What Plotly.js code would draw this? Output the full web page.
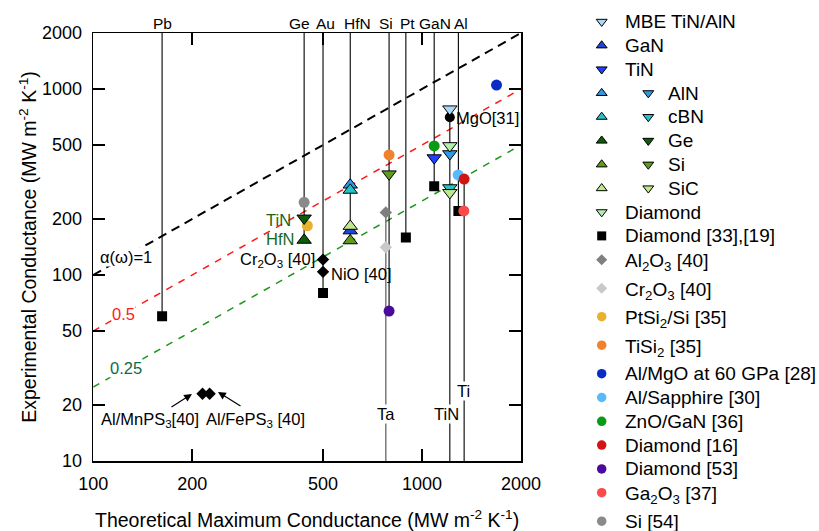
<!DOCTYPE html>
<html><head><meta charset="utf-8">
<script src="https://cdn.plot.ly/plotly-3.0.1.min.js"></script>
<style>html,body{margin:0;padding:0;background:#fff}#chart{width:819px;height:531px}</style>
</head><body><div id="chart"></div>
<script>
// ---------------- DATA (MW m^-2 K^-1) ----------------
// theoretical-maximum vertical guide lines
const lineNames = ['Pb','Ge','Au','HfN','Si','Pt','GaN','Al','Ta','TiN','Ti'];
const lineX     = [162, 438, 500, 605, 794, 893, 1089, 1290, 776, 1215, 1343];
const lineYFrom = [2000, 2000, 2000, 2000, 2000, 2000, 2000, 2000, 10, 10, 10];
const lineYTo   = [60, 154, 80, 153, 64, 159, 300, 221, 217, 780, 328];

// triangles (TiN / HfN interfaces)
const upTriNames = ['GaN','AlN','cBN','Ge','Si','SiC'];
const upTriX     = [605, 605, 605, 438, 605, 605];
const upTriY     = [173, 305, 286, 154, 153, 183];
const downTriNames = ['MBE TiN/AlN','TiN','AlN','cBN','Ge','Si','SiC','Diamond'];
const downTriX     = [1215, 1089, 1215, 1215, 438, 794, 1215, 1215];
const downTriY     = [780, 426, 448, 294, 202, 349, 277, 495];
const triLegendOrder = ['MBE TiN/AlN','GaN','TiN','AlN','cBN','Ge','Si','SiC','Diamond'];

// squares
const squareName = 'Diamond [33],[19]';
const squareX = [162, 500, 893, 1089, 1290];
const squareY = [60, 80, 159, 300, 221];

// grey diamonds
const diamondNames = ['Al<sub>2</sub>O<sub>3</sub> [40]','Cr<sub>2</sub>O<sub>3</sub> [40]'];
const diamondX = [776, 776];
const diamondY = [217, 141];

// black diamonds labelled in the plot
const blackDiamondLabels = ['Cr2O3 [40]','NiO [40]','Al/MnPS3 [40]','Al/FePS3 [40]'];
const blackDiamondX = [500, 500, 215, 226];
const blackDiamondY = [121, 104, 23, 23];

// circles
const circleNames = ['PtSi<sub>2</sub>/Si [35]','TiSi<sub>2</sub> [35]','Al/MgO at 60 GPa [28]','Al/Sapphire [30]',
  'ZnO/GaN [36]','Diamond [16]','Diamond [53]','Ga<sub>2</sub>O<sub>3</sub> [37]','Si [54]'];
const circleX = [448, 794, 1685, 1288, 1089, 1343, 794, 1340, 438];
const circleY = [184, 442, 1050, 345, 494, 328, 64, 221, 246];

// black circle labelled MgO[31]
const mgoX = [1215];
const mgoY = [705];

// accommodation-coefficient reference lines  G_exp = alpha * G_max
const alphaValues = [1, 0.5, 0.25];
const alphaXRange = [100, 2000];

const xTicks = [100, 200, 500, 1000, 2000];
const yTicks = [10, 20, 50, 100, 200, 500, 1000, 2000];

// ---------------- STYLE ----------------
const W = 819, H = 531;
const PX0 = 93.2, PX1 = 521, PY0 = 33, PY1 = 461;
const XLOG0 = 2, XLOG1 = Math.log10(2000);
const FONT = 'Arial, "Liberation Sans", Helvetica, sans-serif';
const px = x => x / W;
const py = y => 1 - y / H;
const xPix = v => PX0 + (Math.log10(v) - XLOG0) / (XLOG1 - XLOG0) * (PX1 - PX0);

const triColors = {'MBE TiN/AlN':'#a9d9f7','GaN':'#1f44de','TiN':'#2040ff','AlN':'#2e9ae6','cBN':'#25c3c9',
  'Ge':'#0c5c0c','Si':'#619b1d','SiC':'#bfe88a','Diamond':'#b3eeae'};
const diamondColors = ['#7f7f7f','#c9c9c9'];
const circleColors = ['#e8b22e','#f0822e','#0a2cc4','#59b9fa','#0a9a14','#d01515','#4b0a9e','#fa4a4a','#8a8a8a'];
const alphaStyles = [
  {color:'#000000', width:2, dash:'9px,6px'},
  {color:'#ff1a1a', width:1.5, dash:'7px,7px'},
  {color:'#1e961e', width:1.5, dash:'7px,7px'}];
const lineStyles = {Ta:{color:'#7a7a7a', width:1.5}, Au:{color:'#444444', width:1.5}};

const traces = [];
alphaValues.forEach((a, i) => {
  traces.push({x: alphaXRange, y: alphaXRange.map(v => a * v), mode:'lines', showlegend:false,
    hoverinfo:'skip', line: alphaStyles[i]});
});
lineNames.forEach((n, i) => {
  const st = lineStyles[n] || {color:'#000000', width:1.1};
  traces.push({x:[lineX[i], lineX[i]], y:[lineYFrom[i], lineYTo[i]], mode:'lines', showlegend:false,
    name:n, line:{color:st.color, width:st.width}});
});
traces.push({x:squareX, y:squareY, mode:'markers', name:squareName, showlegend:false,
  marker:{symbol:'square', size:10, color:'#000'}});
traces.push({x:blackDiamondX, y:blackDiamondY, mode:'markers', name:'labelled', text:blackDiamondLabels,
  showlegend:false, marker:{symbol:'diamond', size:9.5, color:'#000'}});
diamondNames.forEach((n, i) => traces.push({x:[diamondX[i]], y:[diamondY[i]], mode:'markers', name:n,
  showlegend:false, marker:{symbol:'diamond', size:9.5, color:diamondColors[i]}}));
circleNames.forEach((n, i) => traces.push({x:[circleX[i]], y:[circleY[i]], mode:'markers', name:n,
  showlegend:false, marker:{symbol:'circle', size:11, color:circleColors[i]}}));
traces.push({x:mgoX, y:mgoY, mode:'markers', name:'MgO[31]', showlegend:false,
  marker:{symbol:'circle', size:10, color:'#000'}});
upTriNames.forEach((n, i) => traces.push({x:[upTriX[i]], y:[upTriY[i]], mode:'markers', name:n + ' (up)',
  showlegend:false, marker:{symbol:'triangle-up', size:12.5, color:triColors[n], line:{color:'#000', width:1}}}));
downTriNames.forEach((n, i) => traces.push({x:[downTriX[i]], y:[downTriY[i]], mode:'markers', name:n + ' (down)',
  showlegend:false, marker:{symbol:'triangle-down', size:12.5, color:triColors[n], line:{color:'#000', width:1}}}));

// ---------------- custom legend (built from the series lists) ----------------
const legendEntries = [];
triLegendOrder.forEach(n => {
  const syms = [];
  if (upTriNames.includes(n)) syms.push('triangle-up');
  if (downTriNames.includes(n)) syms.push('triangle-down');
  legendEntries.push({text:n, syms:syms, color:triColors[n], size:9.5, line:1});
});
legendEntries.push({text:squareName, syms:['square'], color:'#000', size:9, line:0});
diamondNames.forEach((n, i) => legendEntries.push({text:n, syms:['diamond'], color:diamondColors[i], size:8.5, line:0}));
circleNames.forEach((n, i) => legendEntries.push({text:n, syms:['circle'], color:circleColors[i], size:9.5, line:0}));

const ann = [];
const LEG_Y0 = 21.7, LEG_STEP = 23.8, LEG_SUB_EXTRA = 4.7;
const SYM1_X = 601.7, SYM2_X = 648.3, TXT1_X = 624, TXT2_X = 667;
let yy = LEG_Y0;
const l1 = {x:[], y:[], symbol:[], color:[], size:[], lw:[]};
const l2 = {x:[], y:[], symbol:[], color:[], size:[], lw:[]};
legendEntries.forEach(e => {
  l1.x.push(SYM1_X); l1.y.push(yy); l1.symbol.push(e.syms[0]); l1.color.push(e.color); l1.size.push(e.size); l1.lw.push(e.line);
  if (e.syms.length > 1) {
    l2.x.push(SYM2_X); l2.y.push(yy); l2.symbol.push(e.syms[1]); l2.color.push(e.color); l2.size.push(e.size); l2.lw.push(e.line);
  }
  const hasSub = e.text.indexOf('<sub>') >= 0;
  ann.push({xref:'paper', yref:'paper', x:px(e.syms.length > 1 ? TXT2_X : TXT1_X), y:py(yy + (hasSub ? 2.5 : 0)),
    text:e.text, showarrow:false, xanchor:'left', yanchor:'middle', borderpad:0,
    font:{family:FONT, size:19, color:'#000'}});
  yy += LEG_STEP + (hasSub ? LEG_SUB_EXTRA : 0);
});
[l1, l2].forEach(l => traces.push({x:l.x, y:l.y, xaxis:'x2', yaxis:'y2', mode:'markers', showlegend:false,
  hoverinfo:'skip', cliponaxis:false,
  marker:{symbol:l.symbol, color:l.color, size:l.size, opacity:1, line:{color:'#000', width:l.lw}}}));

// ---------------- annotations ----------------
const LBL = 16.5;
const topShift = {Pb:0, Ge:-5, Au:2, HfN:7, Si:-3, Pt:2, GaN:1, Al:3};
lineNames.forEach((n, i) => {
  if (n in topShift) {
    ann.push({xref:'paper', yref:'paper', x:px(xPix(lineX[i]) + topShift[n]), y:py(23), text:n,
      showarrow:false, xanchor:'center', yanchor:'middle', borderpad:0,
      font:{family:FONT, size:15.5, color:'#000'}});
  }
});
const bottomLbl = {Ta:[0, 414], TiN:[-3, 414], Ti:[-1, 391]};
lineNames.forEach((n, i) => {
  if (n in bottomLbl) {
    ann.push({xref:'paper', yref:'paper', x:px(xPix(lineX[i]) + bottomLbl[n][0]), y:py(bottomLbl[n][1]), text:n,
      showarrow:false, xanchor:'center', yanchor:'middle', bgcolor:'#fff', borderpad:0,
      font:{family:FONT, size:LBL, color:'#000'}});
  }
});
const textLbl = [
  {t:'TiN', x:265, y:220, xa:'left', c:'#1a661a'},
  {t:'HfN', x:265, y:239, xa:'left', c:'#1a661a'},
  {t:'Cr<sub>2</sub>O<sub>3</sub> [40]', x:316, y:260, xa:'right', c:'#000'},
  {t:'NiO [40]', x:330, y:274, xa:'left', c:'#000'},
  {t:'MgO[31]', x:455, y:118, xa:'left', c:'#000'},
  {t:'α(ω)=1', x:99, y:257, xa:'left', c:'#000', bg:'#fff'},
  {t:'0.5', x:124, y:314, xa:'center', c:'#ff1a1a', bg:'#fff'},
  {t:'0.25', x:126, y:368, xa:'center', c:'#0f6b4a', bg:'#fff'},
  {t:'Al/MnPS<sub>3</sub>[40]', x:150, y:420, xa:'center', c:'#000'},
  {t:'Al/FePS<sub>3</sub> [40]', x:255, y:420, xa:'center', c:'#000'}];
textLbl.forEach(a => ann.push({xref:'paper', yref:'paper', x:px(a.x), y:py(a.y), text:a.t, showarrow:false,
  xanchor:a.xa, yanchor:'middle', bgcolor:a.bg || 'rgba(0,0,0,0)', borderpad:0,
  font:{family:FONT, size:LBL, color:a.c}}));
const arrows = [[192, 394, -22, 14], [218, 392, 24, 15]];
arrows.forEach(a => ann.push({xref:'paper', yref:'paper', x:px(a[0]), y:py(a[1]), ax:a[2], ay:a[3], text:'',
  showarrow:true, arrowhead:2, arrowsize:1.3, arrowwidth:1.2, arrowcolor:'#000', standoff:0}));

const axCommon = {type:'log', ticks:'inside', ticklen:12, tickwidth:1.5, tickcolor:'#000', showline:true,
  linecolor:'#000', linewidth:1.5, mirror:'allticks', showgrid:false, zeroline:false, automargin:false,
  tickfont:{family:FONT, size:18, color:'#000'}};

const layout = {
  width:W, height:H, margin:{l:0, r:0, t:0, b:0}, paper_bgcolor:'#fff', plot_bgcolor:'rgba(0,0,0,0)',
  showlegend:false, font:{family:FONT, color:'#000'},
  xaxis:Object.assign({}, axCommon, {range:[XLOG0, XLOG1], domain:[px(PX0), px(PX1)], anchor:'y',
    tickvals:xTicks, ticktext:xTicks.map(String), ticklabelstandoff:6,
    title:{text:'Theoretical Maximum Conductance (MW m<sup>-2</sup> K<sup>-1</sup>)', standoff:21,
      font:{family:FONT, size:19.5, color:'#000'}}}),
  yaxis:Object.assign({}, axCommon, {range:[1, Math.log10(2000)], domain:[py(PY1), py(PY0)], anchor:'x',
    tickvals:yTicks, ticktext:yTicks.map(String), ticklabelstandoff:6,
    title:{text:'Experimental Conductance (MW m<sup>-2</sup> K<sup>-1</sup>)', standoff:0,
      font:{family:FONT, size:19.5, color:'#000'}}}),
  xaxis2:{domain:[px(575), 1], range:[575, 819], visible:false, fixedrange:true, anchor:'y2'},
  yaxis2:{domain:[0, 1], range:[531, 0], visible:false, fixedrange:true, anchor:'x2'},
  annotations:ann
};
Plotly.newPlot('chart', traces, layout, {staticPlot:true, displayModeBar:false});
</script></body></html>
